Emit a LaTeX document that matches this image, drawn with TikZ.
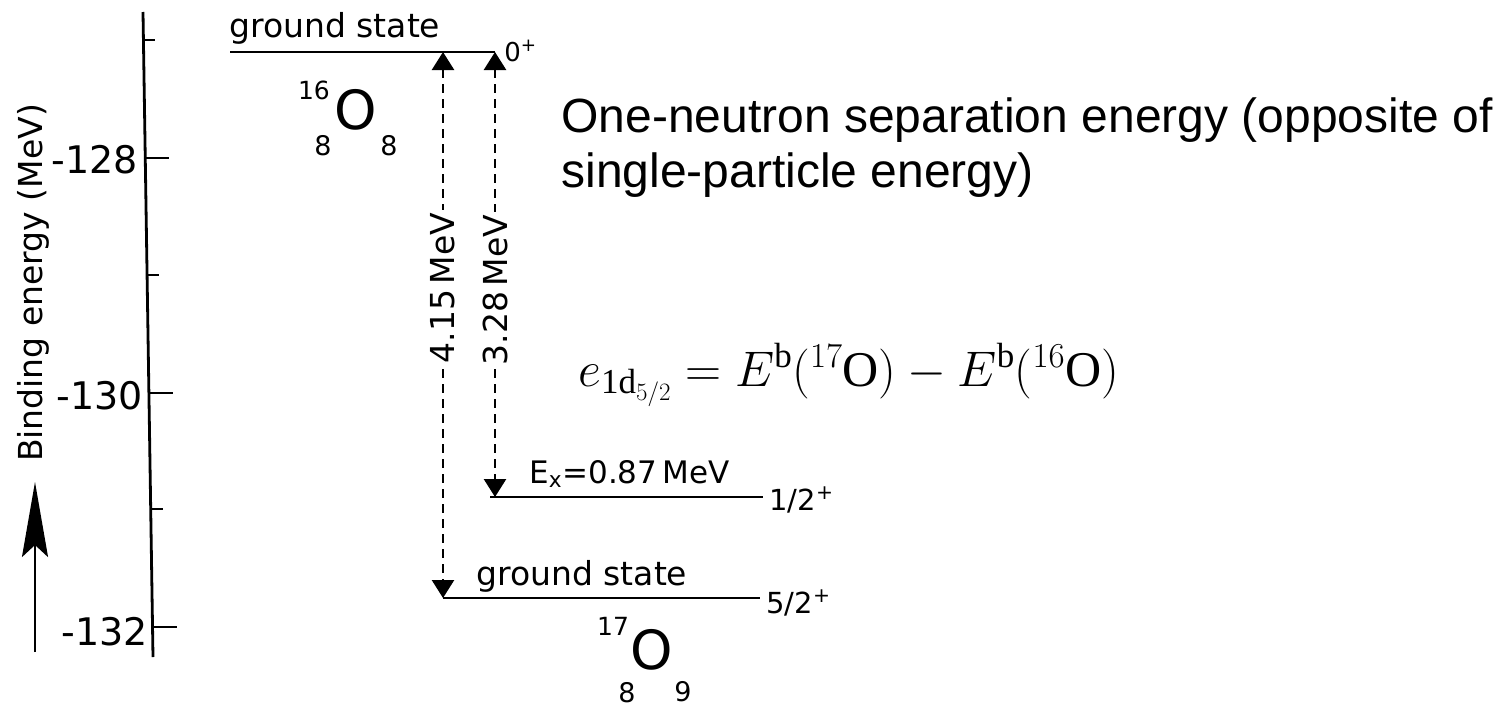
\RequirePackage{fix-cm}
\documentclass[tikz,border=0pt]{standalone}
\usepackage{fontspec}
\setmainfont{Liberation Serif}
\newfontfamily\plotfont{DejaVu Sans}
\newfontfamily\notefont{Liberation Sans}
\usetikzlibrary{arrows.meta}

\begin{document}
\begin{tikzpicture}[
        x=1pt, y=-1pt,
        line width=2.8pt,
        every node/.style={
            inner sep=0pt,
            font=\plotfont\fontsize{33}{40}\selectfont
        },
        lvl/.style={line width=2.8pt},
        gaparrow/.style={
            line width=2.6pt,
            dash pattern=on 9pt off 6pt,
            {Triangle[length=18pt,width=22pt]}-{Triangle[length=18pt,width=22pt]}
        },
        gaplbl/.style={rotate=90, fill=white, inner sep=3pt},
        ticklbl/.style={anchor=east, font=\plotfont\fontsize{38}{44}\selectfont},
        spinlbl/.style={anchor=west, font=\plotfont\fontsize{29}{34}\selectfont},
        nucsym/.style={font=\plotfont\fontsize{54}{60}\selectfont},
        nucnum/.style={font=\plotfont\fontsize{27}{32}\selectfont}
    ]
    \useasboundingbox (0,0) rectangle (1506,707);

    % Eje
    \coordinate (axtop) at (143,12);
    \coordinate (axbot) at (153,657);
    \draw (axtop) -- (axbot);
    \foreach \yy/\len in {40/12,158/24,275/12,393/24,509/12,627/24}
        \draw ({143+10*(\yy-12)/645},\yy) -- ++(\len,0);
    \node[ticklbl] (t128) at (139,160) {-128};
    \node[ticklbl] (t130) at (144,396) {-130};
    \node[ticklbl] (t132) at (149,632) {-132};
    \node[rotate=90, anchor=base] (eaxis) at (42,283) {Binding energy (MeV)};

    \coordinate (upbot) at (35,652);
    \coordinate (uptop) at (35,482);
    \draw[line width=2.6pt, -{Stealth[length=75pt,width=26pt,inset=12pt]}] (upbot) -- (uptop);

    % Niveles
    \coordinate (o16a) at (230,52);
    \coordinate (o16b) at (495,52);
    \coordinate (exa)  at (490,497);
    \coordinate (exb)  at (763,497);
    \coordinate (o17a) at (443,598);
    \coordinate (o17b) at (760,598);
    \draw[lvl] (o16a) -- (o16b);
    \draw[lvl] (exa) -- (exb);
    \draw[lvl] (o17a) -- (o17b);

    \node[anchor=base west] (gs16) at (228,37) {ground state};
    \node[spinlbl, font=\plotfont\fontsize{26}{30}\selectfont] (jp16) at (503,51) {0\textsuperscript{+}};
    \node[anchor=base west, font=\plotfont\fontsize{31}{36}\selectfont] (exlbl) at (528,483) {E\textsubscript{x}=0.87\,MeV};
    \node[spinlbl] (jpex) at (768,500) {1/2\textsuperscript{+}};
    \node[anchor=base west] (gs17) at (475,585) {ground state};
    \node[spinlbl] (jp17) at (765,603) {5/2\textsuperscript{+}};

    % Nucleos
    \node[nucsym] (sym16) at (356,110) {O};
    \node[nucnum, font=\plotfont\fontsize{25}{30}\selectfont] (a16) at (314,90) {16};
    \node[nucnum] (z16) at (323,146) {8};
    \node[nucnum] (n16) at (389,146) {8};
    \node[nucsym] (sym17) at (652,650) {O};
    \node[nucnum, font=\plotfont\fontsize{25}{30}\selectfont] (a17) at (613,626) {17};
    \node[nucnum] (z17) at (627,693) {8};
    \node[nucnum] (n17) at (683,692) {9};

    % Flechas
    \coordinate (s1top) at (443,52);
    \coordinate (s1bot) at (443,598);
    \coordinate (s2top) at (495,52);
    \coordinate (s2bot) at (495,497);
    \draw[gaparrow] (s1top) -- (s1bot);
    \draw[gaparrow] (s2top) -- (s2bot);
    \node[gaplbl] (g415) at (443,288) {4.15\,MeV};
    \node[gaplbl] (g328) at (495,290) {3.28\,MeV};

    % Texto
    \node[anchor=base west, align=left, font=\notefont\fontsize{48}{55}\selectfont] (note) at (560,187)
        {One-neutron separation energy (opposite of\\single-particle energy)};
    \node[anchor=base west, font=\fontsize{50}{60}\selectfont] (eqn) at (577,386)
        {$e_{\mathrm{1d}_{5/2}} = E^{\mathrm{b}}({}^{17}\mathrm{O}) - E^{\mathrm{b}}({}^{16}\mathrm{O})$};

\end{tikzpicture}
\end{document}
